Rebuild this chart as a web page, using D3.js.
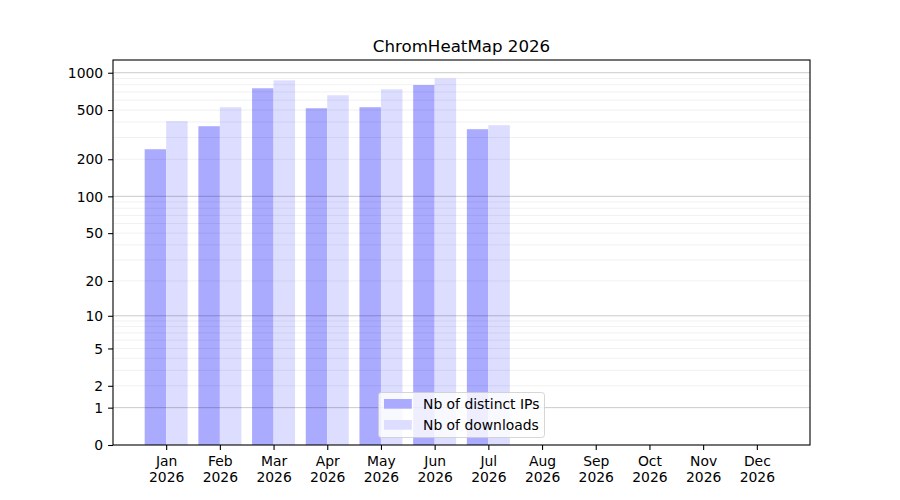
<!DOCTYPE html>
<html><head><meta charset="utf-8">
<script src="https://cdn.jsdelivr.net/npm/d3@7"></script>
<style>body{margin:0;background:#fff}svg{font-family:"DejaVu Sans",sans-serif}</style>
</head><body><svg id="c" width="900" height="500"></svg>
<script>
const months = ["Jan","Feb","Mar","Apr","May","Jun","Jul","Aug","Sep","Oct","Nov","Dec"];
const year = "2026";
const distinctIPs = [241, 370, 749, 517, 527, 796, 350, 0, 0, 0, 0, 0];
const downloads = [406, 527, 868, 658, 735, 901, 377, 0, 0, 0, 0, 0];
const yTicks = [0, 1, 2, 5, 10, 20, 50, 100, 200, 500, 1000];
const majorGrid = [1, 10, 100, 1000];
const minorGrid = [2,3,4,5,6,7,8,9,20,30,40,50,60,70,80,90,200,300,400,500,600,700,800,900];
const seriesNames = ["Nb of distinct IPs", "Nb of downloads"];
const colors = ["#aaaaff", "#ddddff"];
const title = "ChromHeatMap 2026";

const svg = d3.select("#c");
const L = 113, R = 810, T = 60, B = 445;
const x = d3.scaleLinear().domain([-0.99, 11.99]).range([L, R]);
const y = d3.scaleSymlog().constant(1).domain([0, 1267]).range([B, T]);
const bw = 0.4;

// bars
const g = svg.append("g");
[distinctIPs, downloads].forEach((vals, s) => {
  g.selectAll(null).data(vals).enter().append("rect")
    .attr("x", (d, i) => x(i - bw + s * bw))
    .attr("width", x(bw) - x(0))
    .attr("y", d => y(d))
    .attr("height", d => y(0) - y(d))
    .attr("fill", colors[s]);
});

// grid
svg.append("g").selectAll("line").data(minorGrid).enter().append("line")
  .attr("x1", L).attr("x2", R).attr("y1", d => y(d)).attr("y2", d => y(d))
  .attr("stroke", "rgba(0,0,0,0.075)").attr("stroke-width", 0.8);
svg.append("g").selectAll("line").data(majorGrid).enter().append("line")
  .attr("x1", L).attr("x2", R).attr("y1", d => y(d)).attr("y2", d => y(d))
  .attr("stroke", "rgba(0,0,0,0.24)").attr("stroke-width", 0.9);

// axes
const ya = svg.append("g").attr("transform", `translate(${L},0)`)
  .call(d3.axisLeft(y).tickValues(yTicks).tickFormat(d3.format("d")).tickSize(4.9).tickPadding(4.9));
const xa = svg.append("g").attr("transform", `translate(0,${B})`)
  .call(d3.axisBottom(x).tickValues(d3.range(12)).tickFormat("").tickSize(4.9));
[ya, xa].forEach(a => {
  a.attr("font-family", "DejaVu Sans");
  a.select(".domain").remove();
  a.selectAll("line").attr("stroke", "#000").attr("stroke-width", 1.1);
  a.selectAll("text").attr("font-size", "13.9px").attr("fill", "#000").attr("font-family", "DejaVu Sans");
});
ya.selectAll("text").attr("dy", "0.34em");
xa.selectAll(".tick").append("text")
  .attr("text-anchor", "middle").attr("fill", "#000").attr("font-size", "13.9px").attr("font-family", "DejaVu Sans")
  .attr("y", 21).text(i => months[i]);
xa.selectAll(".tick").append("text")
  .attr("text-anchor", "middle").attr("fill", "#000").attr("font-size", "13.9px").attr("font-family", "DejaVu Sans")
  .attr("y", 37.3).text(year);

svg.append("rect").attr("x", L).attr("y", T).attr("width", R - L).attr("height", B - T)
  .attr("fill", "none").attr("stroke", "#000").attr("stroke-width", 1.1);

// title
svg.append("text").attr("x", (L + R) / 2).attr("y", 51.5).attr("text-anchor", "middle")
  .attr("font-size", "16.67px").attr("fill", "#000").text(title);

// legend
const lg = svg.append("g");
lg.append("rect").attr("x", 378.5).attr("y", 392.5).attr("width", 166).attr("height", 45)
  .attr("rx", 2.8).attr("fill", "rgba(255,255,255,0.8)").attr("stroke", "rgba(204,204,204,0.8)").attr("stroke-width", 1);
seriesNames.forEach((n, i) => {
  lg.append("rect").attr("x", 384).attr("y", 399 + i * 21).attr("width", 27.8).attr("height", 9.7).attr("fill", colors[i]);
  lg.append("text").attr("x", 423).attr("y", 409 + i * 21).attr("font-size", "13.9px").attr("fill", "#000").text(n);
});
</script></body></html>
